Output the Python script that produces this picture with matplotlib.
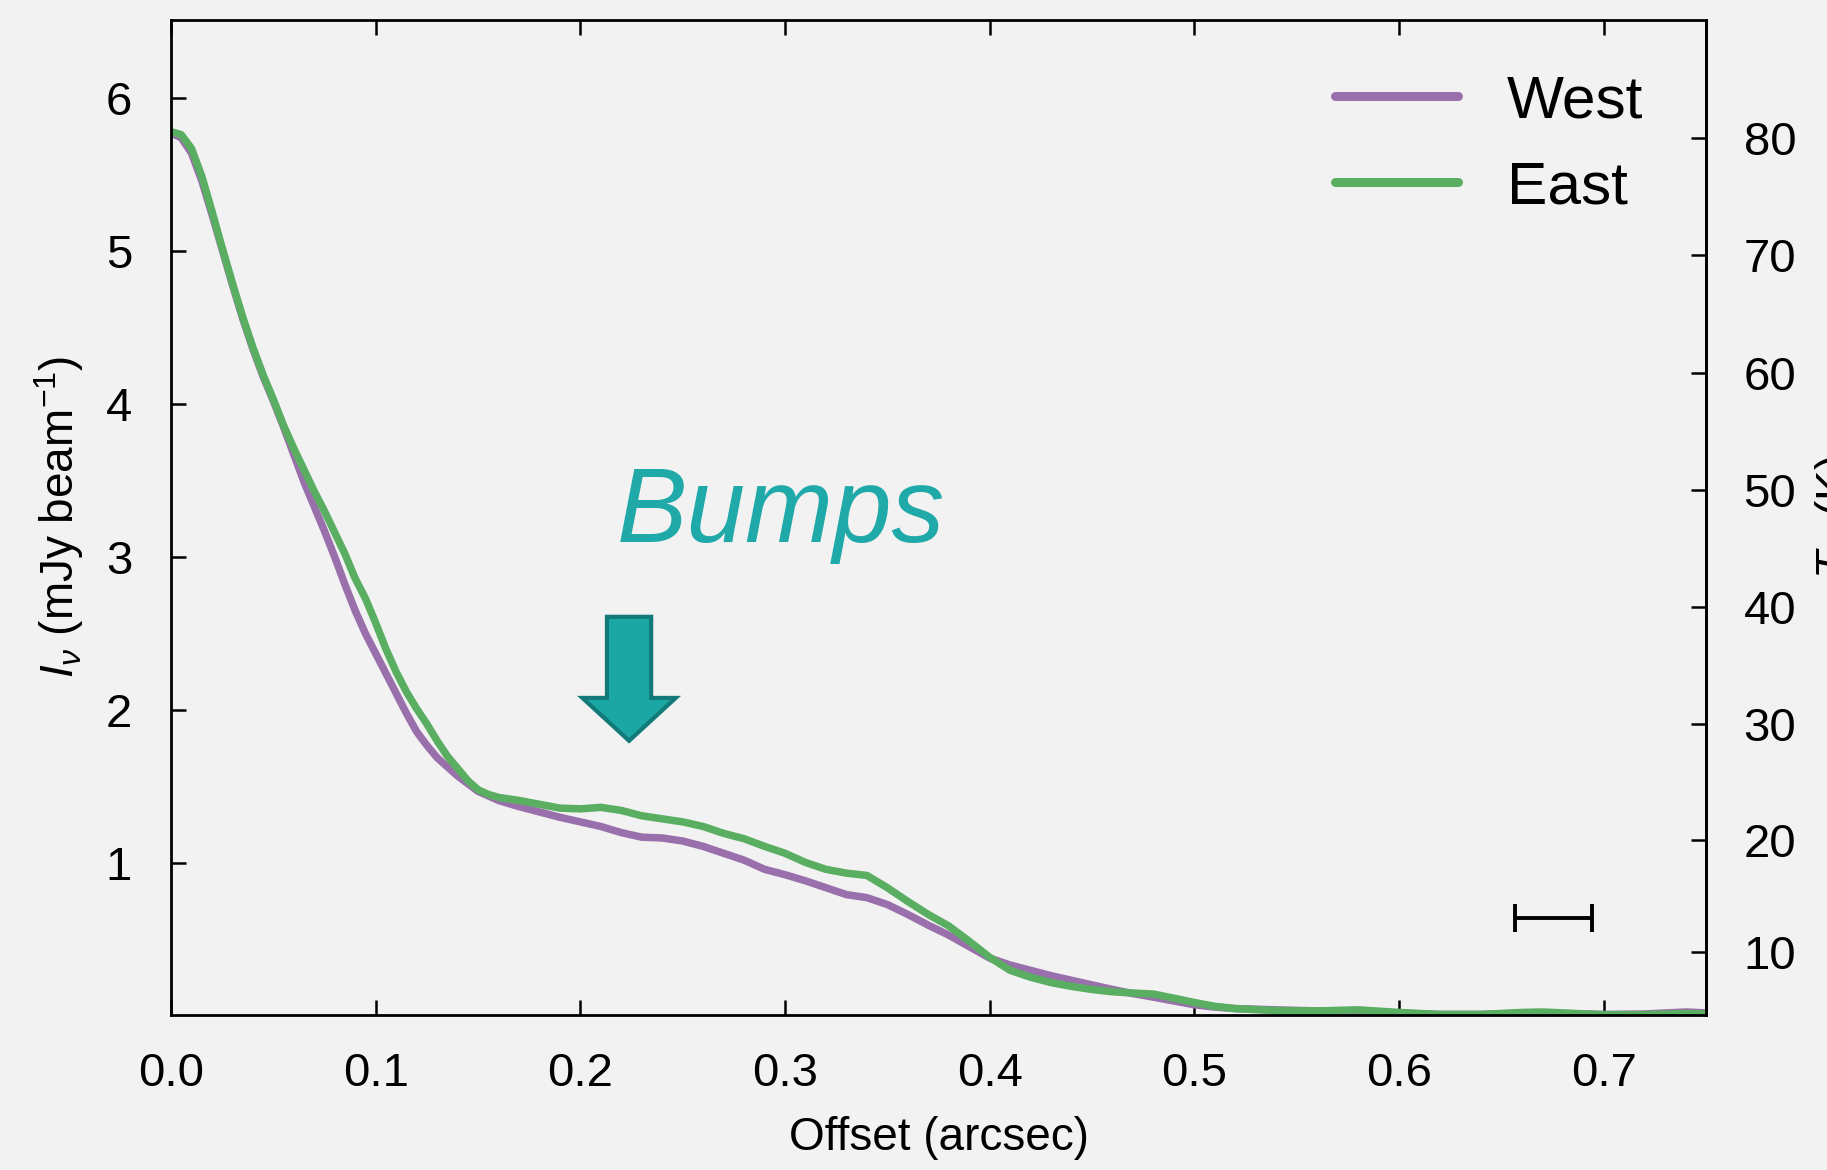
import numpy as np
import matplotlib
matplotlib.use("Agg")
import matplotlib.pyplot as plt
from matplotlib.patches import FancyArrow

plt.rcParams['font.family'] = ['Liberation Sans', 'DejaVu Sans']
plt.rcParams['mathtext.fontset'] = 'custom'
plt.rcParams['mathtext.rm'] = 'Liberation Sans'
plt.rcParams['mathtext.it'] = 'Liberation Sans:italic'
plt.rcParams['mathtext.bf'] = 'Liberation Sans:bold'

# ---------------- data ----------------
offset = [0.000, 0.005, 0.010, 0.015, 0.020, 0.025, 0.030, 0.035, 0.040, 0.045,
          0.050, 0.055, 0.060, 0.065, 0.070, 0.075, 0.080, 0.085, 0.090, 0.095,
          0.100, 0.105, 0.110, 0.115, 0.120, 0.125, 0.130, 0.135, 0.140, 0.145,
          0.150, 0.155, 0.160, 0.170, 0.180, 0.190, 0.200, 0.210, 0.220, 0.230,
          0.240, 0.250, 0.260, 0.270, 0.280, 0.290, 0.300, 0.310, 0.320, 0.330,
          0.340, 0.350, 0.360, 0.370, 0.380, 0.390, 0.400, 0.410, 0.420, 0.430,
          0.440, 0.450, 0.460, 0.470, 0.480, 0.490, 0.500, 0.510, 0.520, 0.540,
          0.560, 0.580, 0.600, 0.620, 0.640, 0.660, 0.670, 0.680, 0.700, 0.720,
          0.740, 0.750]

west = [5.77, 5.74, 5.64, 5.46, 5.24, 5.01, 4.78, 4.56, 4.36, 4.18,
        4.02, 3.85, 3.67, 3.49, 3.33, 3.17, 3.00, 2.82, 2.65, 2.50,
        2.37, 2.24, 2.11, 1.98, 1.86, 1.77, 1.69, 1.63, 1.57, 1.52,
        1.47, 1.44, 1.41, 1.37, 1.335, 1.30, 1.27, 1.24, 1.20, 1.17,
        1.165, 1.145, 1.11, 1.065, 1.02, 0.96, 0.925, 0.885, 0.84, 0.795,
        0.775, 0.73, 0.665, 0.595, 0.53, 0.455, 0.38, 0.335, 0.30, 0.265,
        0.235, 0.205, 0.175, 0.148, 0.125, 0.10, 0.075, 0.06, 0.05, 0.042,
        0.035, 0.03, 0.02, 0.012, 0.012, 0.02, 0.022, 0.018, 0.012, 0.015,
        0.028, 0.022]

east = [5.78, 5.76, 5.67, 5.49, 5.26, 5.02, 4.79, 4.57, 4.37, 4.19,
        4.03, 3.86, 3.71, 3.57, 3.43, 3.30, 3.16, 3.02, 2.86, 2.73,
        2.57, 2.40, 2.25, 2.12, 2.01, 1.91, 1.80, 1.70, 1.62, 1.54,
        1.48, 1.45, 1.43, 1.41, 1.385, 1.36, 1.355, 1.365, 1.345, 1.31,
        1.29, 1.27, 1.24, 1.195, 1.16, 1.11, 1.065, 1.005, 0.96, 0.935,
        0.92, 0.84, 0.75, 0.665, 0.59, 0.49, 0.385, 0.30, 0.255, 0.22,
        0.195, 0.175, 0.16, 0.152, 0.145, 0.118, 0.09, 0.065, 0.05, 0.037,
        0.035, 0.042, 0.025, 0.012, 0.012, 0.025, 0.028, 0.022, 0.01, 0.01,
        0.018, 0.015]

series_labels = ["West", "East"]
series_colors = ["#9970ab", "#5aae61"]

x_ticks = [0.0, 0.1, 0.2, 0.3, 0.4, 0.5, 0.6, 0.7]
y_ticks = [1, 2, 3, 4, 5, 6]
tb_ticks = [10, 20, 30, 40, 50, 60, 70, 80]

beam_center = [0.6755]
beam_level = [0.643]
beam_halfwidth = [0.0188]

# Planck conversion intensity (mJy/beam) <-> brightness temperature (K)
T0 = 11.04   # h nu / k
CONV = 13.0  # K per mJy/beam (Rayleigh-Jeans)


def i2t(i):
    i = np.clip(np.asarray(i, dtype=float), 1e-4, None)
    return T0 / np.log1p(T0 / (CONV * i))


def t2i(t):
    t = np.clip(np.asarray(t, dtype=float), 1e-2, None)
    return T0 / (CONV * np.expm1(T0 / t))


bg = "#f2f2f2"
fig = plt.figure(figsize=(18.27, 11.70), dpi=100, facecolor=bg)
ax = fig.add_axes([0.0936, 0.1327, 0.8402, 0.8503], facecolor=bg)

ax.plot(offset, west, color=series_colors[0], lw=5.4, label=series_labels[0],
        solid_capstyle='round', solid_joinstyle='round')
ax.plot(offset, east, color=series_colors[1], lw=5.4, label=series_labels[1],
        solid_capstyle='round', solid_joinstyle='round')

ax.set_xlim(0, 0.75)
ax.set_ylim(0.01, 6.51)
ax.set_xticks(x_ticks)
ax.set_xticklabels([f"{v:.1f}" for v in x_ticks])
ax.set_yticks(y_ticks)

for s in ax.spines.values():
    s.set_linewidth(2.0)

ax.tick_params(axis='x', which='major', direction='in', length=11, width=1.8,
               top=True, bottom=True, labelsize=34, pad=27)
ax.tick_params(axis='y', which='major', direction='in', length=11, width=1.8,
               left=True, right=False, labelsize=34, pad=28)
ax.minorticks_off()

ax.set_xlabel("Offset (arcsec)", fontsize=33, labelpad=14)
ax.set_ylabel(r"$I_\nu$ (mJy beam$^{-1}$)", fontsize=33, labelpad=14)

sec = ax.secondary_yaxis('right', functions=(i2t, t2i))
sec.set_yticks(tb_ticks)
sec.tick_params(axis='y', direction='in', length=11, width=1.8, labelsize=34, pad=27)
sec.spines['right'].set_linewidth(2.0)
sec.set_ylabel(r"$T_{\rm B}$ (K)", fontsize=33, labelpad=12)

leg = ax.legend(loc='upper right', bbox_to_anchor=(0.9925, 0.997), frameon=False,
                fontsize=43.5, handlelength=2.05, handletextpad=0.8,
                labelspacing=0.52, borderaxespad=0.45)
for ln in leg.get_lines():
    ln.set_linewidth(6.5)

# beam size bar
ax.errorbar(beam_center, beam_level, xerr=beam_halfwidth, fmt='none',
            ecolor='black', elinewidth=2.8, capsize=10, capthick=2.8)

# annotation
ax.text(0.218, 3.10, "Bumps", fontsize=76, style='italic', color='#1fa9a8',
        ha='left', va='baseline')
arrow = FancyArrow(0.2238, 2.61, 0, -0.81, width=0.0216, head_width=0.0456,
                   head_length=0.28, length_includes_head=True,
                   facecolor='#1ba8a5', edgecolor='#127a78', lw=3.0, zorder=5)
ax.add_patch(arrow)

fig.savefig("out.png", dpi=100, facecolor=bg)
